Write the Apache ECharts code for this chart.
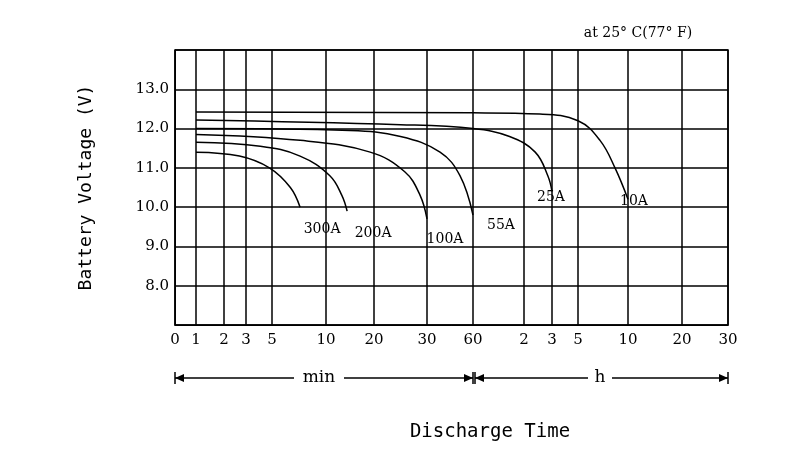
<!DOCTYPE html>
<html><head><meta charset="utf-8">
<script src="https://cdn.jsdelivr.net/npm/echarts@6/dist/echarts.min.js"></script>
<style>html,body{margin:0;background:#fff}#c{width:806px;height:455px}</style>
</head><body><div id="c"></div>
<script>
// tick times in minutes and their labels
const tickTimes = [0,1,2,3,5,10,20,30,60,120,180,300,600,1200,1800];
const tickLabels = ['0','1','2','3','5','10','20','30','60','2','3','5','10','20','30'];
// axis position of each tick (nonlinear time scale of the original chart)
const tickPos = [0,21,49,71,97,151,199,252,298,349,377,403,453,507,553];
// curves: [minutes, volts]
const s10A  = [[1,12.42],[60,12.4],[154,12.37],[300,12.2],[432,11.7],[522,11.0],[600,10.2]];
const s25A  = [[1,12.22],[25,12.1],[60,12.0],[103,11.8],[144,11.4],[171,10.8],[180,10.4]];
const s55A  = [[1,12.0],[15,11.95],[25,11.8],[38.5,11.4],[51.5,10.8],[60,9.8]];
const s100A = [[1,11.85],[7.6,11.7],[19.2,11.4],[25.8,10.9],[28.7,10.3],[30,9.7]];
const s200A = [[1,11.65],[4.1,11.55],[7.6,11.3],[10.8,10.8],[13.3,10.3],[14.4,9.9]];
const s300A = [[1,11.4],[2.7,11.3],[4.8,11.0],[6.7,10.5],[7.6,10.0]];
const seriesNames = ['10A','25A','55A','100A','200A','300A'];

function toPos(t){
  for(let i=1;i<tickTimes.length;i++){
    if(t<=tickTimes[i]){const a=tickTimes[i-1],b=tickTimes[i];
      return tickPos[i-1]+(t-a)/(b-a)*(tickPos[i]-tickPos[i-1]);}
  }
  return tickPos[tickPos.length-1];
}
const F='"DejaVu Serif", serif';
const labelOff = {'10A':[-2,2],'25A':[-9,6],'55A':[20,10],'100A':[10,20],'200A':[18,22],'300A':[14,22]};
const series = [s10A,s25A,s55A,s100A,s200A,s300A].map((d,i)=>({
  type:'line', name:seriesNames[i], smooth:0.4, symbol:'none',
  lineStyle:{color:'#000',width:1.5},
  data:d.map(p=>[toPos(p[0]),p[1]]),
  endLabel:{show:true,formatter:seriesNames[i],color:'#000',fontFamily:F,fontSize:14,
    offset:labelOff[seriesNames[i]],align:'center'}
}));
series.push({type:'line',data:[],markLine:{symbol:'none',silent:true,label:{show:false},
  lineStyle:{color:'#000',width:1.5,type:'solid'},
  data:tickPos.map(p=>({xAxis:p}))}});
const ch = echarts.init(document.getElementById('c'));
function arrow(x1,x2,y){return [
  {type:'line',shape:{x1,y1:y,x2,y2:y},style:{stroke:'#000',lineWidth:1.5}},
  {type:'polygon',shape:{points:[[x1,y],[x1+9,y-4],[x1+9,y+4]]},style:{fill:'#000'}},
  {type:'polygon',shape:{points:[[x2,y],[x2-9,y-4],[x2-9,y+4]]},style:{fill:'#000'}},
  {type:'line',shape:{x1,y1:y-6,x2:x1,y2:y+6},style:{stroke:'#000',lineWidth:1.5}},
  {type:'line',shape:{x1:x2,y1:y-6,x2,y2:y+6},style:{stroke:'#000',lineWidth:1.5}}];}
ch.setOption({
  animation:false,
  grid:{left:175,top:50,width:553,height:275,show:true,borderColor:'#000',borderWidth:1.5},
  xAxis:{type:'value',min:0,max:553,
    axisLine:{lineStyle:{color:'#000'}},splitLine:{show:false},axisTick:{show:false},
    axisLabel:{customValues:tickPos,color:'#000',fontFamily:F,fontSize:15,margin:8,
      formatter:v=>tickLabels[tickPos.indexOf(v)]}},
  yAxis:{type:'value',min:7,max:14,interval:1,
    name:'Battery Voltage (V)',nameLocation:'middle',nameGap:80,
    nameTextStyle:{fontFamily:'"DejaVu Sans Mono", monospace',fontSize:18,color:'#000'},
    axisLine:{show:true,lineStyle:{color:'#000'}},axisTick:{show:false},
    splitLine:{lineStyle:{color:'#000',width:1.5}},
    axisLabel:{color:'#000',fontFamily:F,fontSize:15,margin:6,
      formatter:v=>(v>7.5&&v<13.5)?v.toFixed(1):''}},
  series,
  graphic:[
    ...arrow(175,473,378),...arrow(475,728,378),
    {type:'rect',shape:{x:294,y:368,width:50,height:20},style:{fill:'#fff'}},
    {type:'text',x:319,y:378,style:{text:'min',font:'17px "DejaVu Serif"',fill:'#000',align:'center',verticalAlign:'middle'}},
    {type:'rect',shape:{x:588,y:368,width:24,height:20},style:{fill:'#fff'}},
    {type:'text',x:600,y:378,style:{text:'h',font:'17px "DejaVu Serif"',fill:'#000',align:'center',verticalAlign:'middle'}},
    {type:'text',x:490,y:432,style:{text:'Discharge Time',font:'19px "DejaVu Sans Mono"',fill:'#000',align:'center',verticalAlign:'middle'}},
    {type:'text',x:638,y:33,style:{text:'at 25° C(77° F)',font:'14px "DejaVu Serif"',fill:'#000',align:'center',verticalAlign:'middle'}}
  ]
});
</script></body></html>
